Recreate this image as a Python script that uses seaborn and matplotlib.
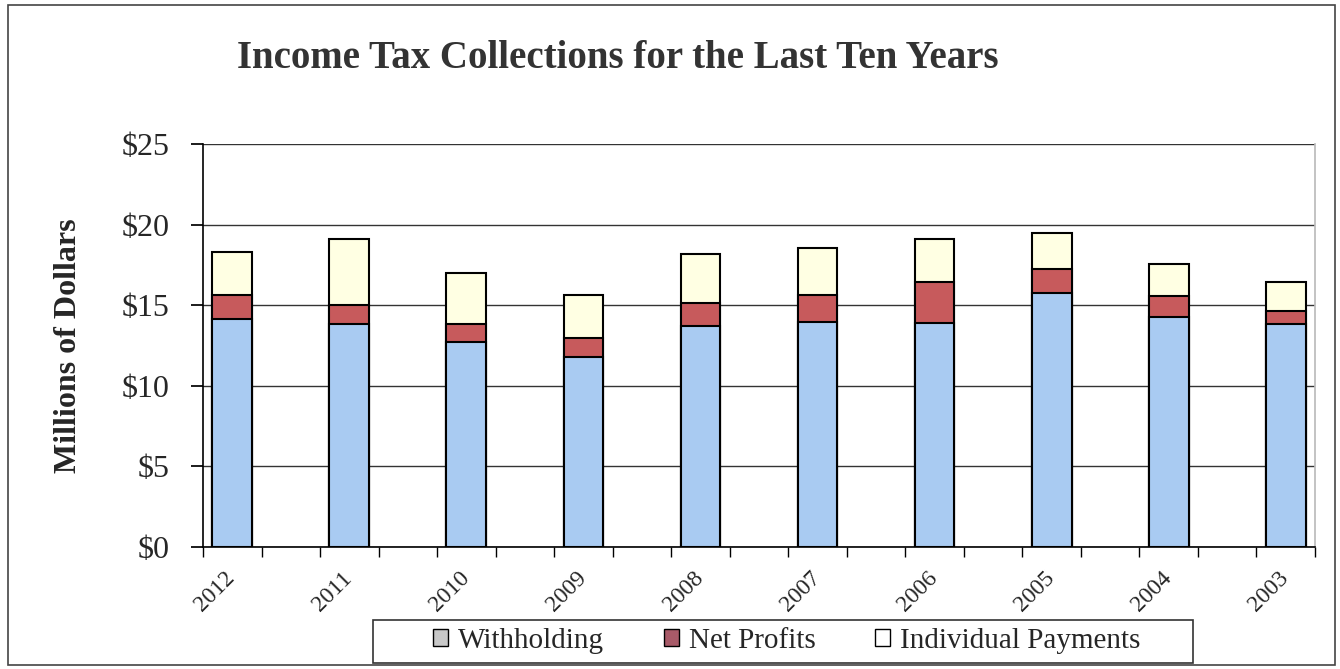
import matplotlib
matplotlib.use("Agg")
import matplotlib.pyplot as plt
import seaborn as sns
import pandas as pd
from matplotlib.patches import Patch, Rectangle
from matplotlib.ticker import FuncFormatter, FixedLocator
from matplotlib.transforms import ScaledTranslation

years = ["2012", "2011", "2010", "2009", "2008", "2007", "2006", "2005", "2004", "2003"]
withholding = [14.12, 13.81, 12.70, 11.81, 13.71, 13.98, 13.88, 15.74, 14.29, 13.83]
net_profits = [1.51, 1.20, 1.11, 1.14, 1.43, 1.65, 2.54, 1.51, 1.28, 0.83]
individual = [2.69, 4.08, 3.21, 2.68, 3.02, 2.94, 2.69, 2.21, 1.99, 1.76]
series_names = ["Withholding", "Net Profits", "Individual Payments"]

df = pd.DataFrame({"year": years, "w": withholding, "n": net_profits, "i": individual})
df["wn"] = df["w"] + df["n"]
df["total"] = df["wn"] + df["i"]

sns.set_theme(style="white")
plt.rcParams["font.family"] = ["Liberation Serif", "DejaVu Serif"]

fig = plt.figure(figsize=(13.4, 6.69), dpi=100)
ax = fig.add_axes([203/1340, 1 - 547/669, (1315-203)/1340, (547-144)/669])

blue = "#A9CBF2"
red = "#C75A5C"
cream = "#FFFFE3"
bw = 0.34
common = dict(x="year", order=years, width=bw, edgecolor="black", linewidth=1.5, ax=ax, zorder=3)
sns.barplot(data=df, y="total", color=cream, saturation=1, **common)
sns.barplot(data=df, y="wn", color=red, saturation=1, **common)
sns.barplot(data=df, y="w", color=blue, saturation=1, **common)

ax.set_ylim(0, 25)
ax.set_xlim(-0.25, len(years) - 0.75)
ax.yaxis.set_major_locator(FixedLocator([0, 5, 10, 15, 20, 25]))
ax.yaxis.set_major_formatter(FuncFormatter(lambda v, p: f"${v:.0f}"))
ax.grid(axis="y", color="#333333", linewidth=1.0, zorder=0)
ax.set_axisbelow(True)
ax.set_xlabel("")
ax.set_ylabel("Millions of Dollars", fontsize=23, fontweight="bold", labelpad=28)
ax.spines["top"].set_visible(False)
ax.spines["right"].set_color("#BBBBBB")
ax.spines["left"].set_color("black")
ax.spines["bottom"].set_color("black")
ax.spines["left"].set_linewidth(1.2)
ax.spines["bottom"].set_linewidth(1.2)

ax.tick_params(axis="y", labelsize=23, length=9, direction="out", left=True, color="black", pad=15)
ax.set_xticks(range(len(years)))
ax.set_xticklabels(years, rotation=45, fontsize=17)
ax.tick_params(axis="x", length=0, pad=15)
ax.xaxis.set_minor_locator(FixedLocator([-0.25 + 0.5 * j for j in range(20)]))
ax.tick_params(axis="x", which="minor", length=7, direction="out", bottom=True, color="black")
for lab in ax.get_xticklabels():
    lab.set_horizontalalignment("right")
    lab.set_verticalalignment("top")
    lab.set_transform(lab.get_transform() + ScaledTranslation(7/100, 0, fig.dpi_scale_trans))

fig.text(618/1340, 1 - 58/669, "Income Tax Collections for the Last Ten Years",
         ha="center", va="center", fontsize=28, fontweight="bold", color="#333333")

handles = [Patch(facecolor="#C8C8C8", edgecolor="black", label=series_names[0]),
           Patch(facecolor="#A85A68", edgecolor="black", label=series_names[1]),
           Patch(facecolor="white", edgecolor="black", label=series_names[2])]
leg = fig.legend(handles=handles, loc="center", bbox_to_anchor=(787/1340, 1 - 641/669),
                 ncol=3, fontsize=21, frameon=False,
                 handlelength=0.5, handleheight=0.5, handletextpad=0.35, columnspacing=2.05,
                 borderpad=0.1)

fig.patches.append(Rectangle((373/1340, 1 - 663/669), 820/1340, 43/669, transform=fig.transFigure,
                             fill=False, edgecolor="#333333", linewidth=1.2))
fig.patches.append(Rectangle((8/1340, 4/669), 1327/1340, 660/669, transform=fig.transFigure,
                             fill=False, edgecolor="#444444", linewidth=1.2))

fig.savefig("out.png", dpi=100)
